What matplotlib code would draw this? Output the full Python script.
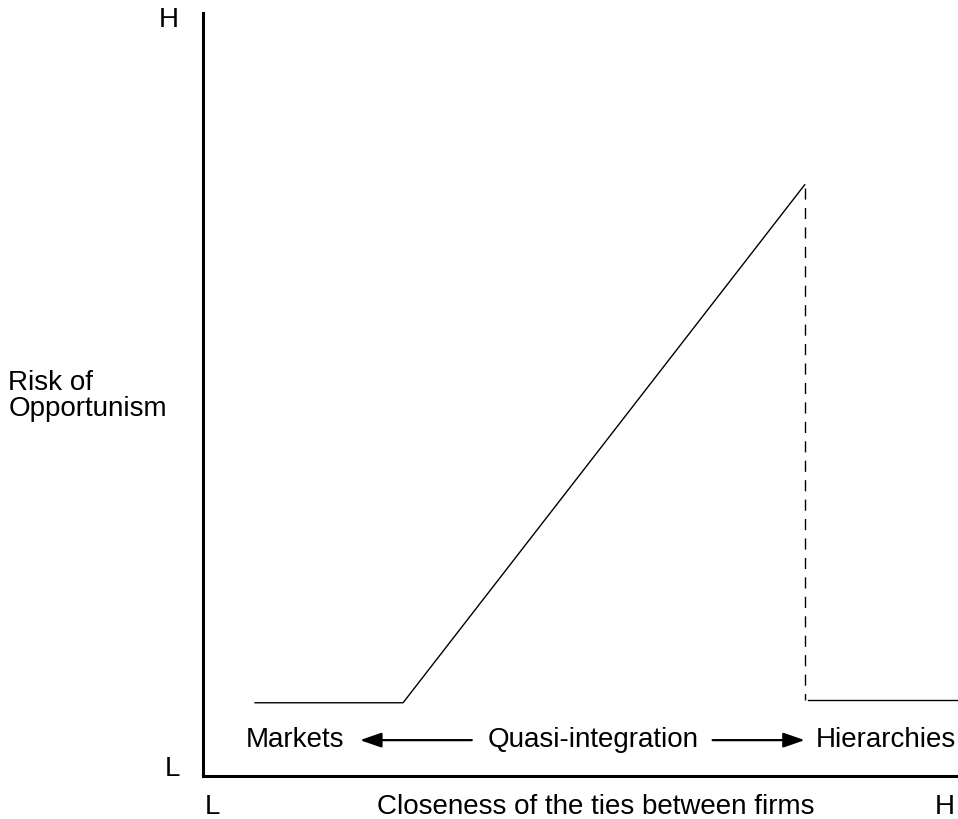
import matplotlib
matplotlib.use("Agg")
import matplotlib.pyplot as plt

plt.rcParams['font.family'] = ['Liberation Sans', 'DejaVu Sans']

# risk curve (axis units 0..1)
curve_x = [0.069, 0.265, 0.797]
curve_y = [0.096, 0.096, 0.775]
drop_x = [0.797, 0.797]
drop_y = [0.770, 0.100]
tail_x = [0.801, 1.0]
tail_y = [0.100, 0.100]

regimes = ['Markets', 'Quasi-integration', 'Hierarchies']
regime_x = [0.056, 0.377, 0.811]
arrow_left = (0.356, 0.208)
arrow_right = (0.675, 0.797)
label_y = 0.047

fig = plt.figure(figsize=(9.58, 8.19), dpi=100)
ax = fig.add_axes([203/958, 43/819, 755/958, 763/819])
ax.set_xlim(0, 1)
ax.set_ylim(0, 1)
for s in ['top', 'right']:
    ax.spines[s].set_visible(False)
for s in ['left', 'bottom']:
    ax.spines[s].set_linewidth(2.2)
ax.set_xticks([])
ax.set_yticks([])

ax.plot(curve_x, curve_y, color='black', lw=1.0)
ax.plot(drop_x, drop_y, color='black', lw=1.0, ls=(0, (8, 6)))
ax.plot(tail_x, tail_y, color='black', lw=1.0)

fs = 20
for name, x in zip(regimes, regime_x):
    ax.text(x, label_y, name, fontsize=fs, ha='left', va='center')

astyle = dict(arrowstyle='-|>,head_length=1.3,head_width=0.45',
              color='black', lw=1.6, shrinkA=0, shrinkB=0)
ax.annotate('', xy=(arrow_left[1], label_y), xytext=(arrow_left[0], label_y),
            arrowprops=astyle)
ax.annotate('', xy=(arrow_right[1], label_y), xytext=(arrow_right[0], label_y),
            arrowprops=astyle)

# axis end labels
ax.text(-0.046, 0.991, 'H', fontsize=fs, ha='center', va='center', clip_on=False)
ax.text(-0.040, 0.009, 'L', fontsize=fs, ha='center', va='center', clip_on=False)
ax.text(0.013, -0.041, 'L', fontsize=fs, ha='center', va='center', clip_on=False)
ax.text(0.983, -0.041, 'H', fontsize=fs, ha='center', va='center', clip_on=False)
ax.text(0.230, -0.041, 'Closeness of the ties between firms', fontsize=fs,
        ha='left', va='center', clip_on=False)
ax.text(-0.258, 0.498, 'Risk of\nOpportunism', fontsize=fs, ha='left',
        va='center', linespacing=1.0, clip_on=False)

fig.savefig('out.png', dpi=100)
